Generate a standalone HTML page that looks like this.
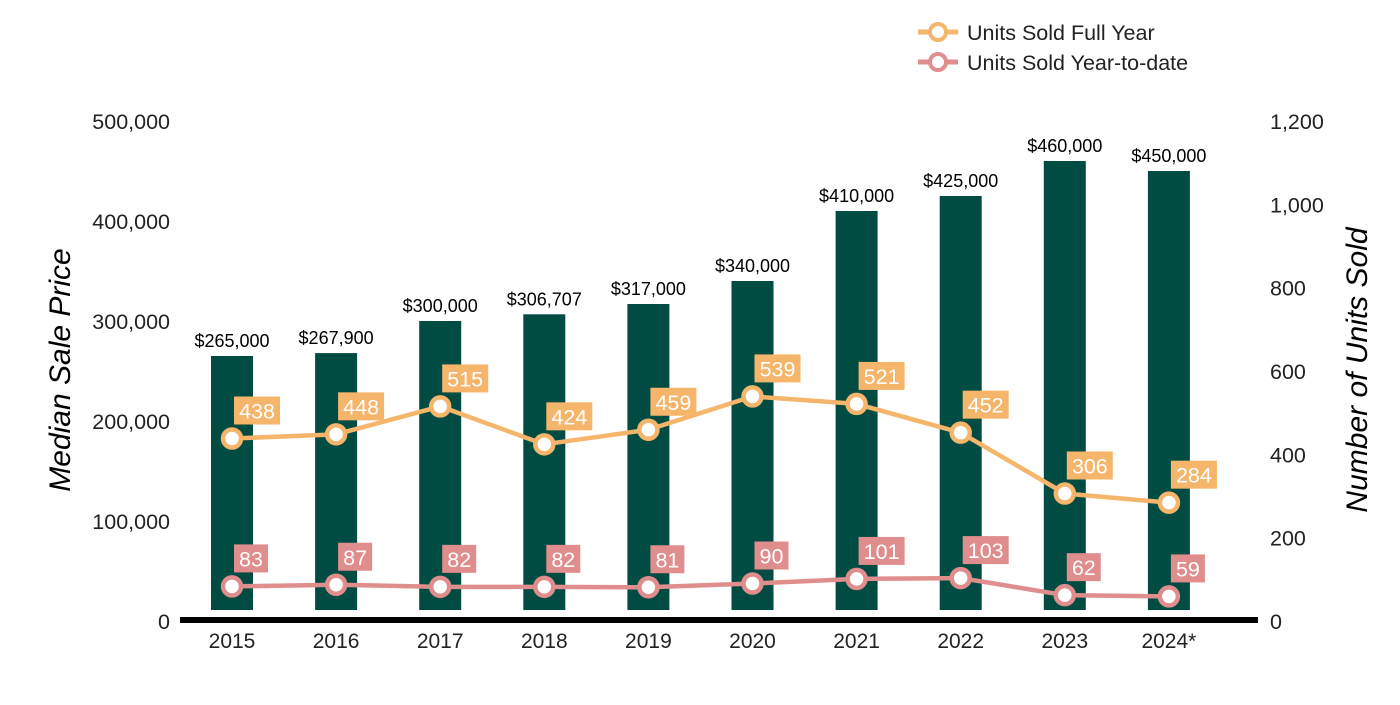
<!DOCTYPE html>
<html><head><meta charset="utf-8"><style>
body{margin:0;background:#fff;}
svg text{font-family:"Liberation Sans",Arial,sans-serif;}
</style></head><body>
<svg id="chart" width="1400" height="700" xmlns="http://www.w3.org/2000/svg">
<text x="70" y="370" transform="rotate(-90 70 370)" text-anchor="middle" font-size="30" font-style="italic" fill="#000">Median Sale Price</text>
<text x="1367" y="370" transform="rotate(-90 1367 370)" text-anchor="middle" font-size="30" font-style="italic" fill="#000">Number of Units Sold</text>
<g>
<g>
<line x1="918" y1="32" x2="958" y2="32" stroke="#f5b56b" stroke-width="5"/>
<circle cx="938" cy="32" r="8" fill="#fff" stroke="#f5b56b" stroke-width="4"/>
<text x="967" y="40" font-size="21.5" fill="#222">Units Sold Full Year</text></g>
<g>
<line x1="918" y1="62" x2="958" y2="62" stroke="#e08d8d" stroke-width="5"/>
<circle cx="938" cy="62" r="8" fill="#fff" stroke="#e08d8d" stroke-width="4"/>
<text x="967" y="70" font-size="21.5" fill="#222">Units Sold Year-to-date</text></g>
</g>
<g id="plot"></g>
</svg>
<script>
const categories=["2015","2016","2017","2018","2019","2020","2021","2022","2023","2024*"];
const prices=[265000,267900,300000,306707,317000,340000,410000,425000,460000,450000];
const priceLabels=["$265,000","$267,900","$300,000","$306,707","$317,000","$340,000","$410,000","$425,000","$460,000","$450,000"];
const fullYear=[438,448,515,424,459,539,521,452,306,284];
const ytd=[83,87,82,82,81,90,101,103,62,59];
const leftTicks=[0,100000,200000,300000,400000,500000];
const rightTicks=[0,200,400,600,800,1000,1200];

const NS="http://www.w3.org/2000/svg";
const g=document.getElementById('plot');
const X0=621;
const xs=i=>232+i*104.1;
const yL=v=>X0-v/500000*500;
const yR=v=>X0-v/1200*500;
function mk(t,a){const e=document.createElementNS(NS,t);for(const k in a)e.setAttribute(k,a[k]);g.appendChild(e);return e;}
leftTicks.forEach(v=>{const e=mk('text',{x:170,y:yL(v)+8,'text-anchor':'end','font-size':21.5,fill:'#222'});e.textContent=v.toLocaleString('en-US');

});
rightTicks.forEach(v=>{const e=mk('text',{x:1270,y:yR(v)+8,'font-size':21.5,fill:'#222'});e.textContent=v.toLocaleString('en-US');

});
categories.forEach((c,i)=>{
const b=mk('rect',{x:xs(i)-21,y:yL(prices[i]),width:42,height:610-yL(prices[i]),fill:'#014c42'});


const t=mk('text',{x:xs(i),y:yL(prices[i])-9,'text-anchor':'middle','font-size':18,fill:'#000'});t.textContent=priceLabels[i];


const l=mk('text',{x:xs(i),y:648,'text-anchor':'middle','font-size':21,fill:'#222'});l.textContent=c;


});
const ax=mk('line',{x1:180,y1:620,x2:1258,y2:620,stroke:'#000','stroke-width':6});


function series(arr,col,name){
const p=mk('polyline',{points:arr.map((v,i)=>xs(i)+','+yR(v)).join(' '),fill:'none',stroke:col,'stroke-width':4.5,'stroke-linejoin':'round'});


arr.forEach((v,i)=>{
const c=mk('circle',{cx:xs(i),cy:yR(v),r:9,fill:'#fff',stroke:col,'stroke-width':4.5});


const s=String(v),w=s.length*12+10;
const r=mk('rect',{x:xs(i)+2,y:yR(v)-42,width:w,height:28,fill:col});


const t=mk('text',{x:xs(i)+2+w/2,y:yR(v)-20,'text-anchor':'middle','font-size':21.5,fill:'#fff'});t.textContent=s;


});}
series(fullYear,'#f5b56b','full-year');
series(ytd,'#e08d8d','ytd');
</script>
</body></html>
